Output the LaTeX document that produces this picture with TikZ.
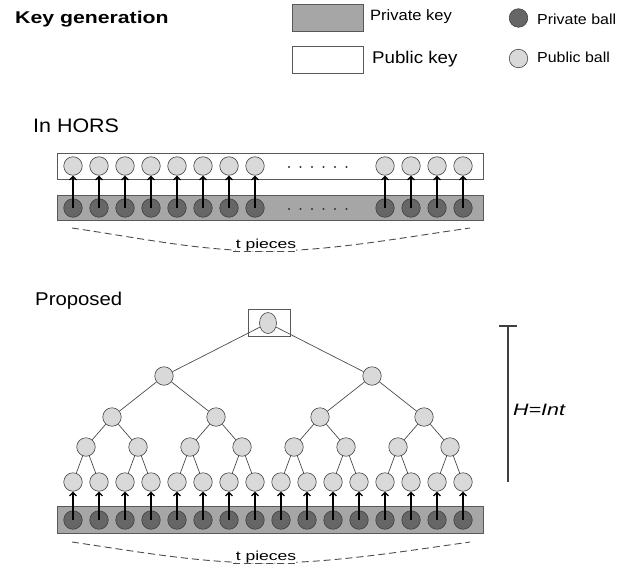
\documentclass[tikz,border=0pt]{standalone}
\usepackage{fontspec}
\setmainfont{Liberation Sans}
\newfontfamily\kgfont[FakeStretch=1.25]{Liberation Sans}
\newfontfamily\lgfont[FakeStretch=1.1]{Liberation Sans}
\newfontfamily\tpfont[FakeStretch=1.35]{Liberation Sans}
\newfontfamily\hifont[FakeStretch=1.3]{Liberation Sans}
\usetikzlibrary{arrows.meta,shapes.geometric}

\begin{document}
\begin{tikzpicture}[x=1pt,y=-1pt,
  pubball/.style={circle,draw=gray!55!black,fill=gray!30,line width=0.6pt,minimum size=18.5pt,inner sep=0pt},
  privball/.style={circle,draw=black!75,fill=black!60,line width=0.6pt,minimum size=18.5pt,inner sep=0pt},
  privbar/.style={draw=gray!70!black,fill=gray!70,line width=0.6pt,inner sep=0pt,anchor=north west},
  pubbar/.style={draw=gray!70!black,fill=white,line width=0.6pt,inner sep=0pt,anchor=north west},
  up/.style={-{Straight Barb[length=3.5pt,width=7pt]},line width=1.3pt,black},
  branch/.style={gray!60!black,line width=0.7pt},
  brace/.style={black!70,line width=0.9pt,dash pattern=on 7pt off 4pt},
  txt/.style={inner sep=0pt,anchor=base west},
]
\useasboundingbox (0,0) rectangle (628,567);

% ---- header and legend ----
\node[txt] (title) at (15,24) {\kgfont\bfseries\fontsize{17}{20}\selectfont Key generation};
\node[privbar,minimum width=71pt,minimum height=27pt] (lgpriv) at (292,4) {};
\node[pubbar,minimum width=71pt,minimum height=27pt] (lgpub) at (292,46) {};
\node[txt] (lgprivt) at (370,20.5) {\lgfont\fontsize{15}{18}\selectfont Private key};
\node[txt] (lgpubt) at (372,63.5) {\lgfont\fontsize{17}{20}\selectfont Public key};
\node[privball] (lgpb) at (518.5,18) {};
\node[pubball] (lgqb) at (518.5,58.5) {};
\node[txt] (lgpbt) at (537,25) {\lgfont\fontsize{14.5}{17}\selectfont Private ball};
\node[txt] (lgqbt) at (537,63) {\lgfont\fontsize{14.5}{17}\selectfont Public ball};

% ---- HORS ----
\node[txt] (hors) at (33,132) {\lgfont\fontsize{19.5}{22}\selectfont In HORS};
\node[pubbar,minimum width=426pt,minimum height=26pt] (hpubbar) at (57,153) {};
\node[privbar,minimum width=426pt,minimum height=25pt] (hprivbar) at (57,195) {};
\foreach \i in {0,1,2,3,4,5,6,7,12,13,14,15} {
  \node[pubball] (hp\i) at ({73+26*\i},166) {};
  \node[privball] (hs\i) at ({73+26*\i},208) {};
  \draw[up] (hs\i.center) -- (hp\i.south);
}
\foreach \d in {0,...,5} {
  \fill[black!80] ({289+11.5*\d},167) circle (1.1pt);
  \fill[black!80] ({289+11.5*\d},209) circle (1.1pt);
}
\coordinate (hbl) at (72,228);
\coordinate (hbm) at (266,251);
\coordinate (hbr) at (470,228);
\draw[brace] (hbl) .. controls (140,238) and (200,251) .. (hbm)
             .. controls (330,251) and (400,238) .. (hbr);
\node[inner sep=0pt,anchor=base,fill=white] (hpieces) at (266,248.5) {\tpfont\fontsize{13}{15}\selectfont t pieces};
\draw[brace] (233,251) -- (299,251);

% ---- proposed tree ----
\node[txt] (prop) at (35,305) {\lgfont\fontsize{18.5}{21}\selectfont Proposed};
\node[pubbar,minimum width=42pt,minimum height=27pt] (rootbox) at (248,309) {};
\node[ellipse,draw=gray!55!black,fill=gray!30,line width=0.6pt,minimum width=17pt,minimum height=21pt,inner sep=0pt] (root) at (268,323) {};

\node[privbar,minimum width=426pt,minimum height=27pt] (tprivbar) at (57,506) {};
\foreach \i in {0,...,15} {
  \node[pubball] (lf\i) at ({73+26*\i},482) {};
  \node[privball] (tk\i) at ({73+26*\i},520) {};
  \draw[up] (tk\i.center) -- (lf\i.south);
}
\foreach \j in {0,...,7} \node[pubball] (ha\j) at ({86+52*\j},447) {};
\foreach \k in {0,...,3} \node[pubball] (hb\k) at ({112+104*\k},417) {};
\foreach \m in {0,1} \node[pubball] (hc\m) at ({164+208*\m},376) {};

\foreach \j in {0,...,7} {
  \pgfmathtruncatemacro\ca{2*\j}
  \pgfmathtruncatemacro\cb{2*\j+1}
  \draw[branch] (ha\j) -- (lf\ca);
  \draw[branch] (ha\j) -- (lf\cb);
}
\foreach \k in {0,...,3} {
  \pgfmathtruncatemacro\ca{2*\k}
  \pgfmathtruncatemacro\cb{2*\k+1}
  \draw[branch] (hb\k) -- (ha\ca);
  \draw[branch] (hb\k) -- (ha\cb);
}
\draw[branch] (hc0) -- (hb0);
\draw[branch] (hc0) -- (hb1);
\draw[branch] (hc1) -- (hb2);
\draw[branch] (hc1) -- (hb3);
\draw[branch] (root) -- (hc0);
\draw[branch] (root) -- (hc1);

\coordinate (tbl) at (72,542);
\coordinate (tbm) at (266,563);
\coordinate (tbr) at (470,542);
\draw[brace] (tbl) .. controls (140,552) and (200,563) .. (tbm)
             .. controls (330,563) and (400,552) .. (tbr);
\node[inner sep=0pt,anchor=base,fill=white] (tpieces) at (266,560.5) {\tpfont\fontsize{13}{15}\selectfont t pieces};
\draw[brace] (233,563) -- (299,563);

% ---- height marker ----
\coordinate (htop) at (508,326);
\coordinate (hbot) at (508,482);
\draw[gray!50!black,line width=1.3pt] (htop) -- (hbot);
\draw[gray!50!black,line width=1.3pt] (499,326) -- (517,326);
\node[txt] (hlabel) at (513,415) {\hifont\itshape\fontsize{16.5}{19}\selectfont H=Int};
\end{tikzpicture}
\end{document}
